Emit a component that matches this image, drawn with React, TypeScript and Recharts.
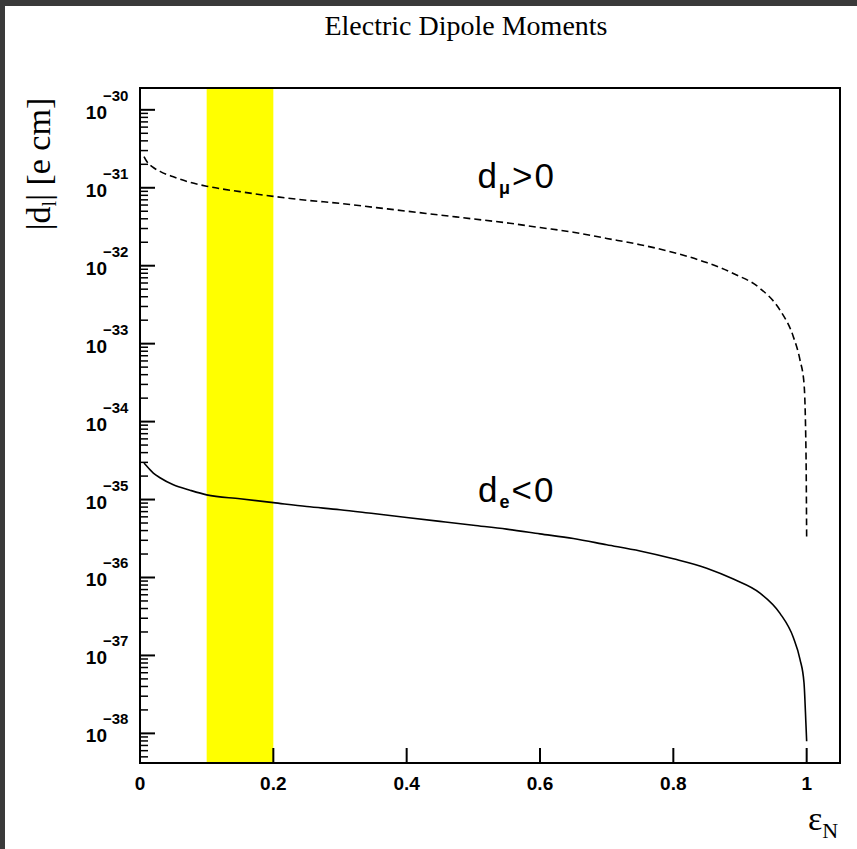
import React from "react";
import { LineChart, Line, XAxis, YAxis, ReferenceArea, ReferenceDot } from "recharts";

// epsilon_N values where the curves were read
const epsN = [
  0.006, 0.01, 0.02, 0.03, 0.05, 0.075, 0.1, 0.15, 0.2, 0.25, 0.3, 0.35, 0.4, 0.45, 0.5,
  0.55, 0.6, 0.65, 0.7, 0.75, 0.8, 0.85, 0.89, 0.93, 0.96, 0.98, 0.99, 0.996, 0.999, 1.0,
];
// log10 |d| [e cm], dashed curve (d > 0)
const logDPos = [
  -30.6, -30.66, -30.74, -30.79, -30.86, -30.93, -30.98, -31.05, -31.11, -31.16, -31.2, -31.25,
  -31.3, -31.35, -31.4, -31.45, -31.51, -31.57, -31.65, -31.73, -31.83, -31.96, -32.1, -32.29,
  -32.57, -32.91, -33.21, -33.51, -34.4, -35.52,
];
// log10 |d| [e cm], solid curve (d < 0)
const logDNeg = [
  -34.53, -34.57, -34.66, -34.72, -34.81, -34.88, -34.94, -34.99, -35.04, -35.09, -35.13, -35.18,
  -35.23, -35.28, -35.33, -35.38, -35.44, -35.5, -35.58, -35.66, -35.76, -35.88, -36.02, -36.2,
  -36.46, -36.77, -37.05, -37.35, -37.9, -38.1,
];

const xTicks = [0, 0.2, 0.4, 0.6, 0.8, 1];
const decades = [-39, -38, -37, -36, -35, -34, -33, -32, -31, -30];
const minorMult = [2, 3, 4, 5, 6, 7, 8, 9];
const yMin = -38.38;
const yMax = -29.72;
const band = [0.1, 0.2];

const data = epsN.map((x, i) => ({ x, pos: logDPos[i], neg: logDNeg[i] }));

const yTicks: number[] = [];
decades.forEach((n) => {
  if (n >= yMin && n <= yMax) yTicks.push(n);
  minorMult.forEach((k) => {
    const v = n + Math.log10(k);
    if (v >= yMin && v <= yMax) yTicks.push(v);
  });
});

const sans = "'Liberation Sans', Arial, Helvetica, sans-serif";
const serif = "'Liberation Serif', 'Times New Roman', serif";

const YTick = (props: any) => {
  const { x, y, payload } = props;
  const v = payload.value;
  const major = Math.abs(v - Math.round(v)) < 1e-6;
  return (
    <g>
      <line x1={x} x2={x + (major ? 15 : 8)} y1={y} y2={y} stroke="#000" strokeWidth={major ? 2 : 1.5} />
      {major && (
        <g fontFamily={sans} fontWeight="bold" fill="#000">
          <text x={x - 33} y={y + 9} fontSize={19} textAnchor="end">10</text>
          <text x={x - 37} y={y - 9} fontSize={15} textAnchor="start">{"\u2212" + Math.abs(Math.round(v))}</text>
        </g>
      )}
    </g>
  );
};

const XTick = (props: any) => {
  const { x, y, payload } = props;
  const v = payload.value;
  const label = v === 0 ? "0" : v === 1 ? "1" : v.toFixed(1);
  return (
    <g>
      {v > 0 && <line x1={x} x2={x} y1={y} y2={y - 15} stroke="#000" strokeWidth={2} />}
      <text x={x} y={y + 27} fontSize={19} fontWeight="bold" fontFamily={sans} textAnchor="middle" fill="#000">
        {label}
      </text>
    </g>
  );
};

const CurveLabel = (props: any) => {
  const { viewBox, sub, rel } = props;
  const cx = viewBox.x + (viewBox.width || 0) / 2;
  const cy = viewBox.y + (viewBox.height || 0) / 2;
  return (
    <text x={cx} y={cy} textAnchor="middle" fontFamily={sans} fontSize={35} fill="#000" letterSpacing={2}>
      d
      <tspan fontSize={18} dy={6} fontWeight="bold">{sub}</tspan>
      <tspan dy={-6}>{rel}0</tspan>
    </text>
  );
};

const App = () => {
  return (
    <div style={{ position: "absolute", left: 0, top: 0, width: 857, height: 849, background: "#3a3a3a" }}>
      <div style={{ position: "absolute", left: 5, top: 6, width: 852, height: 843, background: "#fff" }}>
        <LineChart width={852} height={843} data={data} margin={{ top: 82, right: 17, left: 0, bottom: 0 }}>
          <ReferenceArea x1={band[0]} x2={band[1]} y1={yMin} y2={yMax} fill="#ffff00" fillOpacity={1} stroke="none" />
          <XAxis
            dataKey="x"
            type="number"
            domain={[0, 1.05]}
            ticks={xTicks}
            interval={0}
            allowDataOverflow
            height={86}
            tickSize={0}
            tickMargin={0}
            tickLine={false}
            tick={<XTick />}
            axisLine={{ stroke: "#000", strokeWidth: 2 }}
          />
          <YAxis
            type="number"
            domain={[yMin, yMax]}
            ticks={yTicks}
            interval={0}
            allowDataOverflow
            width={135}
            tickSize={0}
            tickMargin={0}
            tickLine={false}
            tick={<YTick />}
            axisLine={{ stroke: "#000", strokeWidth: 2 }}
          />
          <ReferenceArea x1={0} x2={1.05} y1={yMin} y2={yMax} fill="none" stroke="#000" strokeWidth={2} />
          <Line type="monotone" dataKey="pos" stroke="#000" strokeWidth={1.6} strokeDasharray="7 4" dot={false} isAnimationActive={false} />
          <Line type="monotone" dataKey="neg" stroke="#000" strokeWidth={1.6} dot={false} isAnimationActive={false} />
          <ReferenceDot x={0.565} y={-31.0} r={0} fill="none" stroke="none" label={<CurveLabel sub={"\u03bc"} rel=">" />} />
          <ReferenceDot x={0.565} y={-35.03} r={0} fill="none" stroke="none" label={<CurveLabel sub="e" rel="<" />} />
        </LineChart>
      </div>
      <svg width={857} height={849} style={{ position: "absolute", left: 0, top: 0, pointerEvents: "none" }}>
        <text x={466} y={35} textAnchor="middle" fontFamily={serif} fontSize={28} fill="#000">
          Electric Dipole Moments
        </text>
        <text transform="translate(50,164) rotate(-90)" textAnchor="middle" fontFamily={serif} fontSize={34} fill="#000">
          |d<tspan fontSize={20} dy={6}>l</tspan>
          <tspan dy={-6}>| [e cm]</tspan>
        </text>
        <text x={808} y={830} fontFamily={serif} fontSize={34} fill="#000">
          ε<tspan fontSize={22} dy={8}>N</tspan>
        </text>
      </svg>
    </div>
  );
};

export default App;
